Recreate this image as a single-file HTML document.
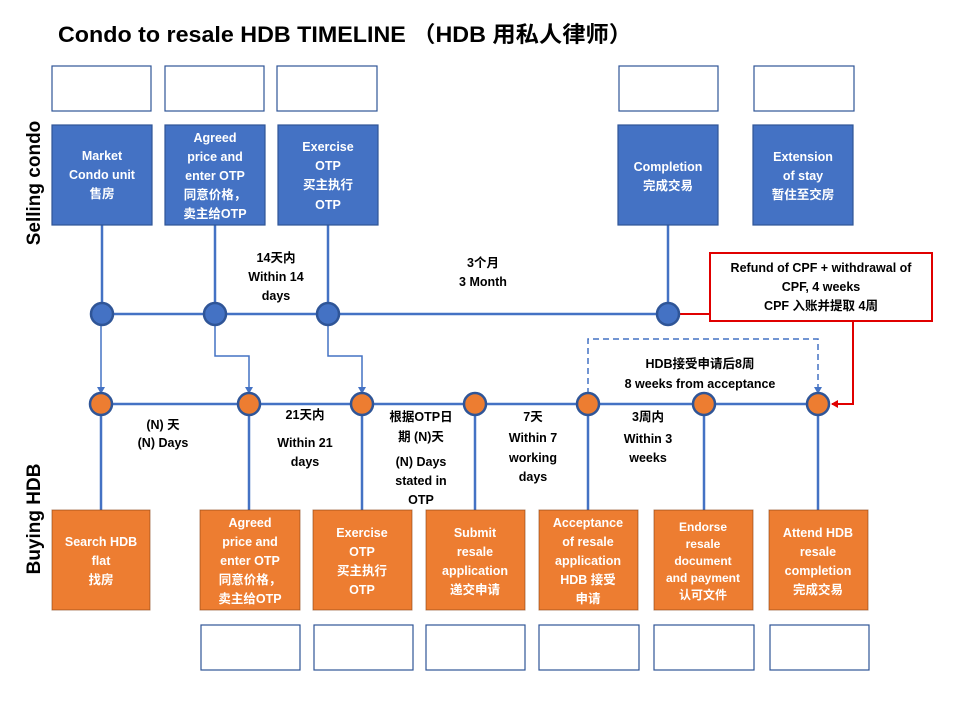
<!DOCTYPE html>
<html><head><meta charset="utf-8"><style>
html,body{margin:0;padding:0;background:#fff;width:960px;height:720px;overflow:hidden}
svg{display:block}
text{font-family:"Liberation Sans","Noto Sans CJK SC",sans-serif;font-weight:bold}
.w{fill:#fff;font-size:12.5px}
.k{fill:#000;font-size:12.5px}
</style></head><body>
<svg width="960" height="720" viewBox="0 0 960 720" xmlns="http://www.w3.org/2000/svg">
<defs>
<marker id="ab" markerWidth="8" markerHeight="8" refX="6" refY="4" orient="auto" markerUnits="userSpaceOnUse"><path d="M0,0 L7,4 L0,8 z" fill="#4472C4"/></marker>
<marker id="ar" markerWidth="8" markerHeight="8" refX="6" refY="4" orient="auto" markerUnits="userSpaceOnUse"><path d="M0,0 L7,4 L0,8 z" fill="#E00000"/></marker>
</defs>
<text x="58" y="42" font-size="22" textLength="574" lengthAdjust="spacingAndGlyphs">Condo to resale HDB TIMELINE （HDB 用私人律师）</text>

<g fill="#fff" stroke="#2F5597" stroke-width="1.2">
<rect x="52" y="66" width="99" height="45"/><rect x="165" y="66" width="99" height="45"/><rect x="277" y="66" width="100" height="45"/><rect x="619" y="66" width="99" height="45"/><rect x="754" y="66" width="100" height="45"/>
<rect x="201" y="625" width="99" height="45"/><rect x="314" y="625" width="99" height="45"/><rect x="426" y="625" width="99" height="45"/><rect x="539" y="625" width="100" height="45"/><rect x="654" y="625" width="100" height="45"/><rect x="770" y="625" width="99" height="45"/>
</g>

<text transform="translate(40,183) rotate(-90)" font-size="19" text-anchor="middle">Selling condo</text>
<text transform="translate(40,519) rotate(-90)" font-size="19" text-anchor="middle">Buying HDB</text>

<!-- connectors -->
<g stroke="#4472C4" stroke-width="2.5" fill="none">
<line x1="102" y1="225" x2="102" y2="314"/>
<line x1="215" y1="225" x2="215" y2="314"/>
<line x1="328" y1="225" x2="328" y2="314"/>
<line x1="668" y1="225" x2="668" y2="314"/>
<line x1="102" y1="314" x2="668" y2="314"/>
<line x1="101" y1="404" x2="818" y2="404"/>
<line x1="101" y1="404" x2="101" y2="510"/>
<line x1="249" y1="404" x2="249" y2="510"/>
<line x1="362" y1="404" x2="362" y2="510"/>
<line x1="475" y1="404" x2="475" y2="510"/>
<line x1="588" y1="404" x2="588" y2="510"/>
<line x1="704" y1="404" x2="704" y2="510"/>
<line x1="818" y1="404" x2="818" y2="510"/>
</g>
<g stroke="#4472C4" stroke-width="1.5" fill="none">
<line x1="101" y1="314" x2="101" y2="393" marker-end="url(#ab)"/>
<polyline points="215,314 215,356 249,356 249,393" marker-end="url(#ab)"/>
<polyline points="328,314 328,356 362,356 362,393" marker-end="url(#ab)"/>
<polyline points="588,404 588,339 818,339 818,393" stroke-dasharray="6,4" marker-end="url(#ab)"/>
</g>
<g stroke="#E00000" stroke-width="2" fill="none">
<line x1="679" y1="314" x2="710" y2="314"/>
<polyline points="853,321 853,404 832,404" marker-end="url(#ar)"/>
</g>

<!-- circles -->
<g fill="#4472C4" stroke="#2F5597" stroke-width="2.5">
<circle cx="102" cy="314" r="11"/><circle cx="215" cy="314" r="11"/><circle cx="328" cy="314" r="11"/><circle cx="668" cy="314" r="11"/>
</g>
<g fill="#ED7D31" stroke="#2F5597" stroke-width="2.5">
<circle cx="101" cy="404" r="11"/><circle cx="249" cy="404" r="11"/><circle cx="362" cy="404" r="11"/><circle cx="475" cy="404" r="11"/><circle cx="588" cy="404" r="11"/><circle cx="704" cy="404" r="11"/><circle cx="818" cy="404" r="11"/>
</g>

<!-- blue boxes -->
<g fill="#4472C4" stroke="#2F5597" stroke-width="1.2">
<rect x="52" y="125" width="100" height="100"/><rect x="165" y="125" width="100" height="100"/><rect x="278" y="125" width="100" height="100"/><rect x="618" y="125" width="100" height="100"/><rect x="753" y="125" width="100" height="100"/>
</g>
<g class="w" text-anchor="middle">
<text x="102" y="160">Market</text><text x="102" y="179">Condo unit</text><text x="102" y="198">售房</text>
<text x="215" y="142">Agreed</text><text x="215" y="161">price and</text><text x="215" y="180">enter OTP</text><text x="215" y="199">同意价格，</text><text x="215" y="218">卖主给OTP</text>
<text x="328" y="151">Exercise</text><text x="328" y="170">OTP</text><text x="328" y="189">买主执行</text><text x="328" y="209">OTP</text>
<text x="668" y="171">Completion</text><text x="668" y="190">完成交易</text>
<text x="803" y="161">Extension</text><text x="803" y="180">of stay</text><text x="803" y="199">暂住至交房</text>
</g>

<!-- orange boxes -->
<g fill="#ED7D31" stroke="#843C0C" stroke-width="1" stroke-opacity="0.6">
<rect x="52" y="510" width="98" height="100"/><rect x="200" y="510" width="100" height="100"/><rect x="313" y="510" width="99" height="100"/><rect x="426" y="510" width="99" height="100"/><rect x="539" y="510" width="99" height="100"/><rect x="654" y="510" width="99" height="100"/><rect x="769" y="510" width="99" height="100"/>
</g>
<g class="w" text-anchor="middle">
<text x="101" y="546">Search HDB</text><text x="101" y="565">flat</text><text x="101" y="584">找房</text>
<text x="250" y="527">Agreed</text><text x="250" y="546">price and</text><text x="250" y="565">enter OTP</text><text x="250" y="584">同意价格，</text><text x="250" y="603">卖主给OTP</text>
<text x="362" y="537">Exercise</text><text x="362" y="556">OTP</text><text x="362" y="575">买主执行</text><text x="362" y="594">OTP</text>
<text x="475" y="537">Submit</text><text x="475" y="556">resale</text><text x="475" y="575">application</text><text x="475" y="594">递交申请</text>
<text x="588" y="527">Acceptance</text><text x="588" y="546">of resale</text><text x="588" y="565">application</text><text x="588" y="584">HDB 接受</text><text x="588" y="603">申请</text>
<text x="703" y="531" font-size="12">Endorse</text><text x="703" y="548" font-size="12">resale</text><text x="703" y="565" font-size="12">document</text><text x="703" y="582" font-size="12">and payment</text><text x="703" y="599" font-size="12">认可文件</text>
<text x="818" y="537">Attend HDB</text><text x="818" y="556">resale</text><text x="818" y="575">completion</text><text x="818" y="594">完成交易</text>
</g>

<!-- red box -->
<rect x="710" y="253" width="222" height="68" fill="#fff" stroke="#E00000" stroke-width="2"/>
<g class="k" text-anchor="middle">
<text x="821" y="272">Refund of CPF + withdrawal of</text><text x="821" y="291">CPF,  4 weeks</text><text x="821" y="310">CPF 入账并提取 4周</text>
</g>

<!-- labels -->
<g class="k" text-anchor="middle">
<text x="276" y="262">14天内</text><text x="276" y="281">Within 14</text><text x="276" y="300">days</text>
<text x="483" y="267">3个月</text><text x="483" y="286">3 Month</text>
<text x="163" y="429">(N) 天</text><text x="163" y="447">(N) Days</text>
<text x="305" y="419">21天内</text><text x="305" y="447">Within 21</text><text x="305" y="466">days</text>
<text x="421" y="421">根据OTP日</text><text x="421" y="441">期 (N)天</text><text x="421" y="466">(N) Days</text><text x="421" y="485">stated in</text><text x="421" y="504">OTP</text>
<text x="533" y="421">7天</text><text x="533" y="442">Within 7</text><text x="533" y="462">working</text><text x="533" y="481">days</text>
<text x="648" y="421">3周内</text><text x="648" y="443">Within 3</text><text x="648" y="462">weeks</text>
<text x="700" y="368">HDB接受申请后8周</text><text x="700" y="388">8 weeks from acceptance</text>
</g>
</svg>
</body></html>
